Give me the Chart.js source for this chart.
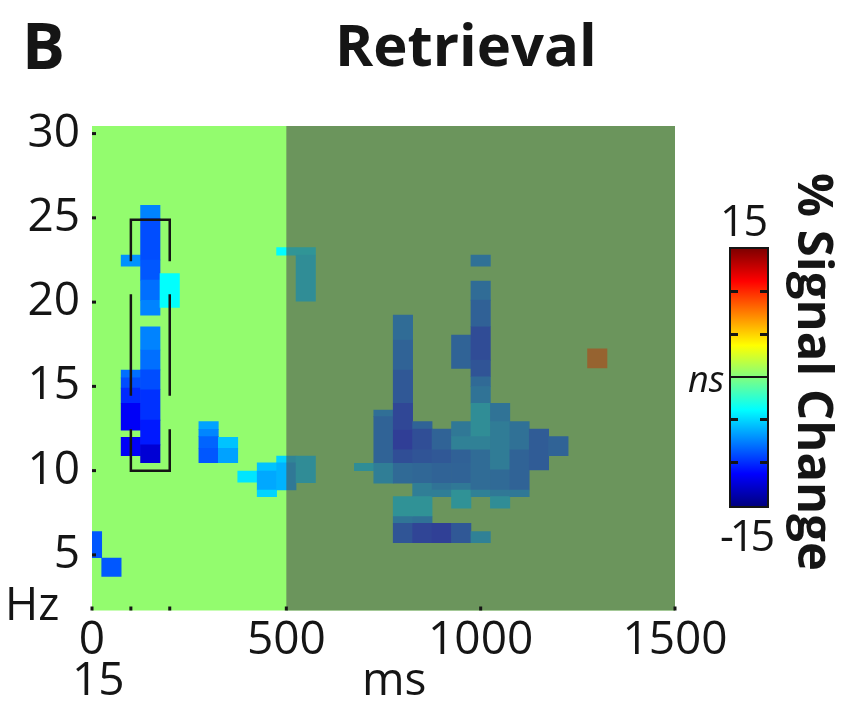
<!DOCTYPE html>
<html>
<head>
<meta charset="utf-8">
<script src="https://cdn.jsdelivr.net/npm/chart.js@4.4.1/dist/chart.umd.min.js"></script>
<style>
  html, body { margin: 0; background: #fff; }
  #wrap { position: relative; width: 843px; height: 702px; overflow: hidden; font-family: "Open Sans", sans-serif; color: #151515; }
  #wrap canvas { position: absolute; left: 0; top: 0; }
  .lbl { position: absolute; line-height: 1; white-space: nowrap; }
  #cbar { position: absolute; box-sizing: border-box; border: 2.5px solid #151515; }
  #cbar i { position: absolute; background: #151515; }
</style>
</head>
<body>
<div id="wrap">
  <canvas id="tf" width="843" height="702"></canvas>
  <div class="lbl" style="left:22px;top:13px;font-size:64px;font-weight:700">B</div>
  <div class="lbl" style="left:335px;top:15px;font-size:58px;font-weight:700">Retrieval</div>
  <div class="lbl" style="left:5px;top:580px;font-size:45px">Hz</div>
  <div class="lbl" style="left:72px;top:654px;font-size:46px">15</div>
  <div class="lbl" style="left:362px;top:654px;font-size:46px">ms</div>
  <div class="lbl" style="left:720px;top:198px;font-size:43px;letter-spacing:-1px">15</div>
  <div class="lbl" style="left:720px;top:513px;font-size:43px;letter-spacing:-4px">-15</div>
  <div class="lbl" style="left:688px;top:361px;font-size:36px;font-style:italic">ns</div>
  <div class="lbl" style="left:841px;top:173px;font-size:49px;font-weight:700;transform-origin:0 0;transform:rotate(90deg)">% Signal Change</div>
  <div id="cbar"></div>
</div>
<script>
// time-frequency map: significant cells only, 50 ms bins
// row = [time ms (bin centre), low Hz, high Hz, % signal change]
const earlyCells = [
  [0, 4.84, 6.38, -8.7],
  [50, 3.72, 4.81, -8.7],
  [100, 22.13, 22.79, -7.0],
  [100, 15.50, 15.96, -8.0],
  [100, 14.90, 15.50, -9.0],
  [100, 14.00, 14.90, -10.0],
  [100, 12.40, 14.00, -11.5],
  [100, 10.89, 11.98, -11.5],
  [150, 24.97, 25.75, -7.4],
  [150, 22.50, 24.97, -9.0],
  [150, 21.30, 22.50, -8.7],
  [150, 20.10, 21.30, -8.0],
  [150, 19.23, 20.10, -7.4],
  [150, 17.16, 18.54, -7.4],
  [150, 15.98, 17.16, -8.0],
  [150, 14.80, 15.98, -9.0],
  [150, 13.00, 14.80, -9.8],
  [150, 11.53, 13.00, -10.5],
  [150, 10.47, 11.53, -12.5],
  [200, 19.69, 21.70, -3.7],
  [300, 12.45, 12.91, -6.5],
  [300, 12.02, 12.45, -7.3],
  [300, 11.33, 12.02, -8.3],
  [300, 10.47, 11.33, -8.7],
  [350, 11.33, 11.98, -5.5],
  [350, 10.47, 11.33, -6.5],
  [400, 9.31, 9.98, -4.5],
  [450, 9.98, 10.47, -5.5],
  [450, 8.85, 9.98, -6.3],
  [450, 8.46, 8.85, -5.0],
  [500, 22.79, 23.24, -3.8],
  [500, 10.47, 10.87, -5.0],
  [500, 8.85, 10.47, -6.0],
  [550, 22.79, 23.24, -3.8],
  [550, 20.06, 22.79, -4.4],
  [550, 9.29, 10.87, -4.5]
];

const lateCells = [
  [700, 10.00, 10.44, -4.4],
  [750, 13.20, 13.60, -6.6],
  [750, 10.44, 13.20, -7.5],
  [750, 9.25, 10.44, -5.5],
  [800, 17.75, 19.23, -6.8],
  [800, 15.97, 17.75, -7.5],
  [800, 14.00, 15.97, -8.3],
  [800, 12.41, 14.00, -9.5],
  [800, 11.23, 12.41, -10.2],
  [800, 10.44, 11.23, -9.0],
  [800, 9.25, 10.44, -7.0],
  [800, 7.27, 8.46, -4.0],
  [800, 6.88, 7.27, -6.2],
  [800, 5.73, 6.88, -8.5],
  [850, 12.47, 12.91, -7.5],
  [850, 11.23, 12.47, -9.0],
  [850, 10.44, 11.23, -8.6],
  [850, 9.25, 10.44, -7.2],
  [850, 8.46, 9.25, -5.5],
  [850, 7.27, 8.46, -4.0],
  [850, 6.88, 7.27, -6.5],
  [850, 5.73, 6.88, -9.7],
  [900, 11.23, 12.47, -7.5],
  [900, 10.44, 11.23, -8.3],
  [900, 9.25, 10.44, -7.5],
  [900, 8.85, 9.25, -6.3],
  [900, 8.46, 8.85, -5.5],
  [900, 5.73, 6.88, -10.0],
  [950, 16.07, 18.04, -7.5],
  [950, 12.02, 12.91, -6.0],
  [950, 11.23, 12.02, -5.3],
  [950, 10.44, 11.23, -7.6],
  [950, 9.25, 10.44, -7.5],
  [950, 8.85, 9.25, -6.0],
  [950, 7.77, 8.85, -4.0],
  [950, 5.73, 6.88, -8.3],
  [1000, 22.13, 22.79, -6.5],
  [1000, 20.12, 21.25, -6.8],
  [1000, 18.54, 20.12, -7.6],
  [1000, 16.56, 18.54, -9.2],
  [1000, 15.57, 16.56, -8.6],
  [1000, 14.98, 15.57, -7.0],
  [1000, 14.00, 14.98, -6.3],
  [1000, 12.02, 14.00, -4.4],
  [1000, 11.23, 12.02, -5.3],
  [1000, 10.04, 11.23, -6.8],
  [1000, 8.85, 10.04, -6.8],
  [1000, 8.46, 8.85, -5.3],
  [1000, 5.73, 6.38, -5.3],
  [1050, 12.91, 14.00, -6.3],
  [1050, 10.04, 12.91, -5.7],
  [1050, 8.85, 10.04, -7.0],
  [1050, 8.46, 8.85, -6.0],
  [1050, 7.77, 8.46, -4.4],
  [1100, 11.23, 12.91, -6.5],
  [1100, 8.85, 11.23, -7.5],
  [1100, 8.46, 8.85, -6.0],
  [1150, 10.04, 12.47, -8.0],
  [1200, 10.89, 12.02, -7.5],
  [1300, 16.09, 17.22, 7.5]
];

// dashed bracket (100–200 ms, 10–25 Hz); null = pen up
const bracketPath = [
  [100, 22.43], [100, 24.89], [200, 24.89], [200, 22.43], null,
  [100, 20.47], [100, 14.45], null,
  [200, 20.47], [200, 14.45], null,
  [100, 12.45], [100, 10.0], [200, 10.0], [200, 12.45]
];

const xTicks = [0, 100, 200, 500, 1000, 1500];
const xLabelled = [0, 500, 1000, 1500];
const yTicks = [5, 10, 15, 20, 25, 30];
const shadeRange = [500, 1500];   // greyed-out window
const colorRange = [-15, 15];
const colorTicks = [-10, -5, 0, 5, 10];

const INK = '#151515';
const BG = 'rgb(147,252,110)';
const SHADE = 'rgba(80,80,80,0.6)';

// MATLAB-style jet
function jet(v) {
  const t = Math.min(1, Math.max(0, (v - colorRange[0]) / (colorRange[1] - colorRange[0])));
  const c = x => Math.round(255 * Math.min(1, Math.max(0, x)));
  return `rgb(${c(Math.min(4 * t - 1.5, 4.5 - 4 * t))},${c(Math.min(4 * t - 0.5, 3.5 - 4 * t))},${c(Math.min(4 * t + 0.5, 2.5 - 4 * t))})`;
}

const cells = [...earlyCells, ...lateCells];

// green background, grey window and the small inside ticks
const panelDecor = {
  id: 'panelDecor',
  beforeDatasetsDraw(chart) {
    const { ctx, chartArea: a } = chart;
    ctx.save();
    ctx.fillStyle = BG;
    ctx.fillRect(a.left, a.top, a.right - a.left, a.bottom - a.top);
    ctx.restore();
  },
  afterDatasetsDraw(chart) {
    const { ctx, chartArea: a, scales: { x, y } } = chart;
    ctx.save();
    const x0 = x.getPixelForValue(shadeRange[0]);
    const x1 = x.getPixelForValue(shadeRange[1]);
    ctx.fillStyle = SHADE;
    ctx.fillRect(x0, a.top, x1 - x0, a.bottom - a.top);
    ctx.fillStyle = INK;
    xTicks.forEach(v => ctx.fillRect(x.getPixelForValue(v) - 1.5, a.bottom - 4, 3, 4));
    yTicks.forEach(v => ctx.fillRect(a.left, y.getPixelForValue(v) - 1.5, 4, 3));
    ctx.restore();
  }
};

const tickFont = { family: '"Open Sans", sans-serif', size: 46 };

new Chart(document.getElementById('tf'), {
  type: 'bar',
  data: {
    datasets: [
      {
        type: 'line',
        data: bracketPath.map(p => p ? { x: p[0], y: p[1] } : { x: 150, y: null }),
        borderColor: INK, borderWidth: 2.5, borderCapStyle: 'butt', borderJoinStyle: 'miter',
        pointRadius: 0, fill: false, tension: 0, spanGaps: false, order: 1
      },
      {
        type: 'bar',
        data: cells.map(c => ({ x: c[0], y: [c[1], c[2]] })),
        backgroundColor: cells.map(c => jet(c[3])),
        borderWidth: 0, barPercentage: 1, categoryPercentage: 1, grouped: false, order: 2
      }
    ]
  },
  options: {
    responsive: false, animation: false, events: [],
    layout: { padding: { top: 126, right: 168, bottom: 0, left: 0 } },
    plugins: { legend: { display: false }, tooltip: { enabled: false }, title: { display: false } },
    scales: {
      x: {
        type: 'linear', min: 0, max: 1500, offset: false,
        grid: { display: false, drawTicks: false }, border: { display: false },
        afterBuildTicks: s => { s.ticks = xTicks.map(v => ({ value: v })); },
        afterFit: s => { s.height = 91.5; },
        ticks: {
          autoSkip: false, maxRotation: 0, padding: 3, color: INK, font: tickFont,
          callback: v => xLabelled.includes(v) ? String(v) : ''
        }
      },
      y: {
        type: 'linear', min: 1.7, max: 30.45,
        grid: { display: false, drawTicks: false }, border: { display: false },
        afterBuildTicks: s => { s.ticks = yTicks.map(v => ({ value: v })); },
        afterFit: s => { s.width = 92; },
        ticks: { padding: 12, color: INK, font: tickFont }
      }
    }
  },
  plugins: [panelDecor]
});

// colour bar (jet, -15..15) with inner ticks and the ns line
(function drawColorBar() {
  const bar = { left: 729, top: 247, width: 40, height: 261 };
  const el = document.getElementById('cbar');
  Object.assign(el.style, {
    left: bar.left + 'px', top: bar.top + 'px', width: bar.width + 'px', height: bar.height + 'px',
    background: 'linear-gradient(to top, rgb(0,0,128) 0%, rgb(0,0,255) 12.5%, rgb(0,255,255) 37.5%, rgb(255,255,0) 62.5%, rgb(255,0,0) 87.5%, rgb(128,0,0) 100%)'
  });
  const inner = bar.height - 5;
  el.innerHTML = colorTicks.map(v => {
    const y = inner * (colorRange[1] - v) / (colorRange[1] - colorRange[0]) - 1.25;
    return v === 0
      ? `<i style="left:0;right:0;top:${y}px;height:2.5px"></i>`
      : `<i style="left:0;width:7px;top:${y}px;height:2.5px"></i><i style="right:0;width:7px;top:${y}px;height:2.5px"></i>`;
  }).join('');
})();
</script>
</body>
</html>
